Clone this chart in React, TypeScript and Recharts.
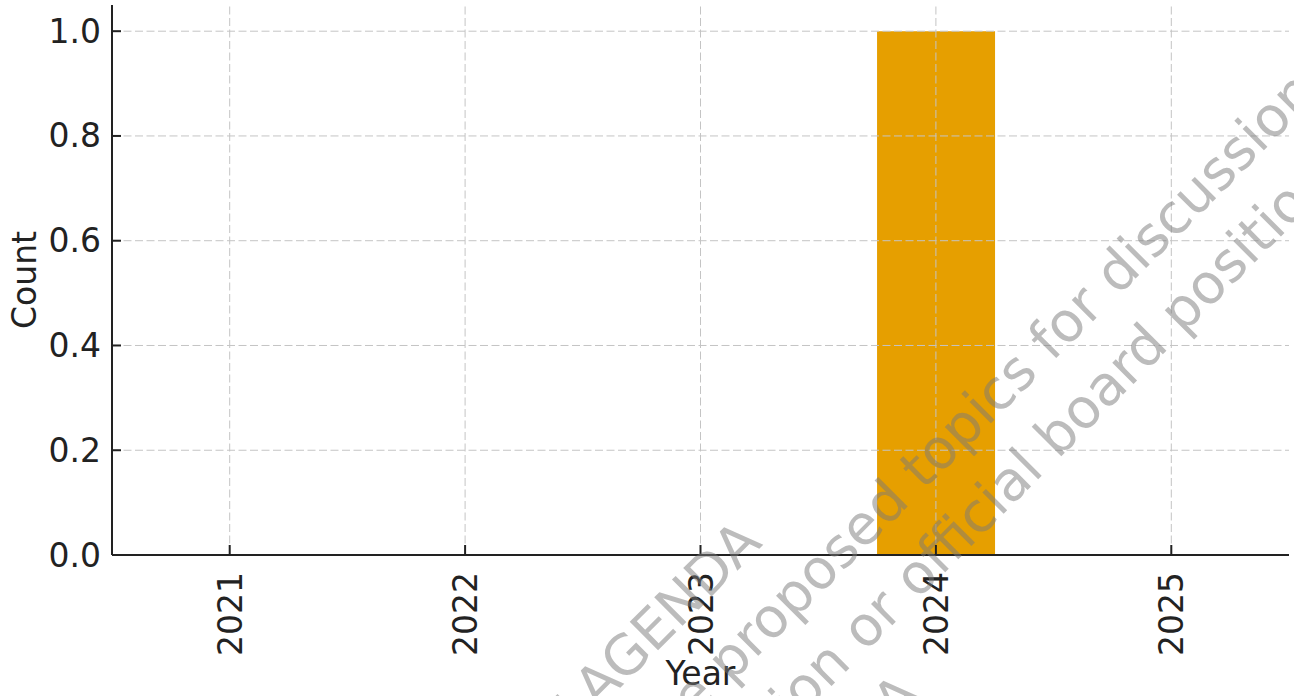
import React from "react";
import { BarChart, Bar, XAxis, YAxis, ReferenceLine, Label } from "recharts";

// values
const years = ["2021", "2022", "2023", "2024", "2025"];
const counts = [0, 0, 0, 1, 0];
const yTicks = [0, 0.2, 0.4, 0.6, 0.8, 1.0];

const data = years.map((year, i) => ({ year, count: counts[i] }));

const FONT = "'DejaVu Sans', Verdana, sans-serif";
const INK = "#222222";
const GRID = "#c4c4c4";

const YTick = (props: any) => {
  const { x, y, payload } = props;
  return (
    <g>
      <line x1={x + 11} y1={y} x2={x + 20} y2={y} stroke={INK} strokeWidth={2} />
      <text x={x} y={y} dy={11.5} textAnchor="end" fontSize={33} fill={INK} fontFamily={FONT}>
        {Number(payload.value).toFixed(1)}
      </text>
    </g>
  );
};

const XTick = (props: any) => {
  const { x, y, payload } = props;
  return (
    <g>
      <line x1={x} y1={y - 17} x2={x} y2={y - 27} stroke={INK} strokeWidth={2} />
      <text
        x={x + 12}
        y={y}
        textAnchor="end"
        fontSize={33}
        fill={INK}
        fontFamily={FONT}
        transform={`rotate(-90, ${x + 12}, ${y})`}
      >
        {payload.value}
      </text>
    </g>
  );
};

// watermark lines in a frame turned -45 degrees
const watermark = [
  { text: "DRAFT AGENDA", u: 155, v: 925 },
  { text: "These are proposed topics for discussion", u: 866, v: 1000 },
  { text: "Not a final recommendation or official board position", u: 817, v: 1073 },
  { text: "DRAFT AGENDA", u: 159, v: 1146 },
];

const Watermark = () => (
  <svg
    width={1294}
    height={696}
    style={{ position: "absolute", left: 0, top: 0, pointerEvents: "none" }}
  >
    <g transform="rotate(-45)">
      {watermark.map((w, i) => (
        <text
          key={i}
          x={w.u}
          y={w.v}
          textAnchor="end"
          fontSize={55}
          fontFamily={FONT}
          fill="#7a7a7a"
          fillOpacity={0.5}
        >
          {w.text}
        </text>
      ))}
    </g>
  </svg>
);

export default function App() {
  return (
    <div style={{ position: "absolute", left: 0, top: 0, width: 1294, height: 696, background: "#fff" }}>
      <BarChart
        width={1294}
        height={696}
        data={data}
        margin={{ top: 5, right: 5, bottom: 0, left: 0 }}
        barCategoryGap="25%"
      >
        <XAxis
          dataKey="year"
          height={141}
          tickSize={0}
          tickMargin={17}
          tickLine={false}
          axisLine={{ stroke: INK, strokeWidth: 2 }}
          tick={<XTick />}
          interval={0}
        >
          <Label
            content={(p: any) => {
              const vb = p.viewBox;
              return (
                <text x={vb.x + vb.width / 2} y={vb.y + 130} textAnchor="middle" fontSize={33} fill={INK} fontFamily={FONT}>
                  Year
                </text>
              );
            }}
          />
        </XAxis>
        <YAxis
          width={112}
          domain={[0, 1.05]}
          ticks={yTicks}
          tickSize={0}
          tickMargin={11}
          tickLine={false}
          axisLine={{ stroke: INK, strokeWidth: 2 }}
          tick={<YTick />}
        >
          <Label
            content={(p: any) => {
              const vb = p.viewBox;
              const cx = vb.x + 36;
              const cy = vb.y + vb.height / 2;
              return (
                <text x={cx} y={cy} textAnchor="middle" fontSize={33} fill={INK} fontFamily={FONT} transform={`rotate(-90, ${cx}, ${cy})`}>
                  Count
                </text>
              );
            }}
          />
        </YAxis>
        <Bar dataKey="count" fill="#E69F00" isAnimationActive={false} />
        {/* grid drawn over the bar, as in the reference */}
        {yTicks.slice(1).map((t) => (
          <ReferenceLine key={`h${t}`} y={t} stroke={GRID} strokeDasharray="8 3.5" strokeWidth={1} />
        ))}
        {years.map((yr) => (
          <ReferenceLine key={`v${yr}`} x={yr} stroke={GRID} strokeDasharray="8 3.5" strokeWidth={1} />
        ))}
      </BarChart>
      <Watermark />
    </div>
  );
}
